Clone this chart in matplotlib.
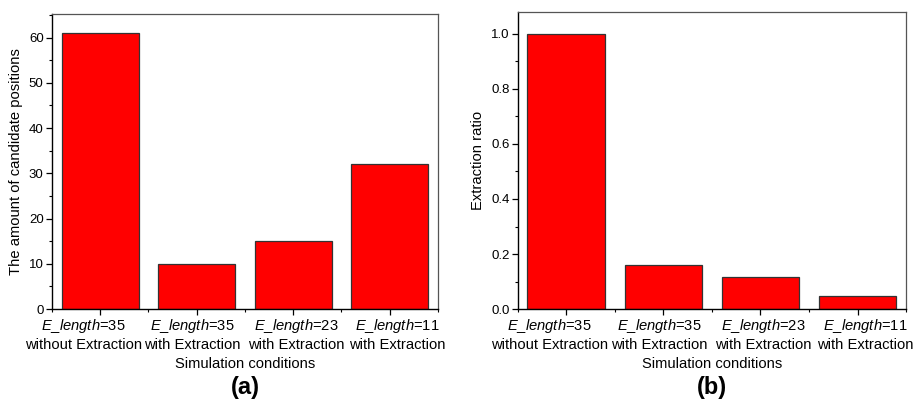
import numpy as np
import matplotlib
matplotlib.use("Agg")
from matplotlib import pyplot as plt
from matplotlib.ticker import MultipleLocator, FixedLocator
from matplotlib.transforms import ScaledTranslation

plt.rcParams['font.family'] = ['Liberation Sans', 'DejaVu Sans']
plt.rcParams['mathtext.fontset'] = 'custom'
plt.rcParams['mathtext.rm'] = 'Liberation Sans'
plt.rcParams['mathtext.it'] = 'Liberation Sans:italic'

lengths = [35, 35, 23, 11]
modes = ['without Extraction', 'with Extraction', 'with Extraction', 'with Extraction']
candidates = [61, 10, 15, 32]
ratios = [1.0, 0.162, 0.115, 0.048]

labels = [r'$\mathit{E\_length}$=' + str(n) + '\n' + m for n, m in zip(lengths, modes)]
x = np.arange(len(labels))
# the original labels sit a bit off their ticks (pixels)
label_shift = [-17, -4, 3, 8]

fig = plt.figure(figsize=(9.18, 4.03), dpi=100)
ax1 = fig.add_axes([0.0566, 0.233, 0.4204, 0.732])
ax2 = fig.add_axes([0.564, 0.233, 0.423, 0.737])


def style(ax, data, ylabel, ymax, major, minor, fmt, tag):
    ax.bar(x, data, width=0.8, color='#ff0000', edgecolor='#333333', linewidth=0.9)
    ax.set_xlim(-0.5, 3.5)
    ax.set_ylim(0, ymax)
    ax.set_xticks(x)
    ax.set_xticklabels(labels, fontsize=10.6, linespacing=1.25)
    ax.xaxis.set_minor_locator(FixedLocator([-0.5, 0.5, 1.5, 2.5, 3.5]))
    ax.yaxis.set_major_locator(MultipleLocator(major))
    ax.yaxis.set_minor_locator(MultipleLocator(minor))
    ax.yaxis.set_major_formatter(fmt)
    ax.tick_params(axis='both', which='major', direction='out', length=4, width=0.9, labelsize=9.5, pad=2)
    ax.tick_params(axis='both', which='minor', direction='out', length=2.5, width=0.8)
    ax.tick_params(axis='x', which='major', labelsize=10.6, pad=2)
    for lab, dx in zip(ax.get_xticklabels(), label_shift):
        lab.set_transform(lab.get_transform() + ScaledTranslation(dx / 100, 0, fig.dpi_scale_trans))
    for s in ['left', 'bottom']:
        ax.spines[s].set_linewidth(1.0)
        ax.spines[s].set_color('black')
    for s in ['top', 'right']:
        ax.spines[s].set_linewidth(0.9)
        ax.spines[s].set_color('#555555')
    ax.set_ylabel(ylabel, fontsize=10.6, labelpad=4)
    ax.set_xlabel('Simulation conditions', fontsize=10.6, labelpad=3.5)
    ax.text(0.5, -0.265, tag, transform=ax.transAxes, ha='center', va='center',
            fontsize=17, fontweight='bold')


style(ax1, candidates, 'The amount of candidate positions', 65.2, 10, 5, '{x:.0f}', '(a)')
style(ax2, ratios, 'Extraction ratio', 1.079, 0.2, 0.1, '{x:.1f}', '(b)')

fig.savefig('out.png', dpi=100)
